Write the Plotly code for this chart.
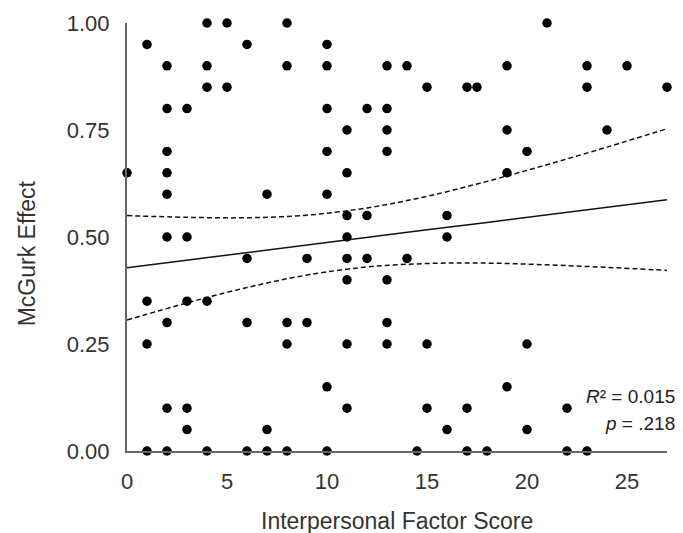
import plotly.graph_objects as go

# Interpersonal factor score (x) and McGurk effect (y)
x_vals = [4, 5, 8, 21,
          1, 6, 10,
          2, 4, 8, 10, 13, 14, 19, 23, 25,
          4, 5, 15, 17, 17.5, 23, 27,
          2, 3, 10, 12, 13,
          11, 13, 19, 24,
          2, 10, 13, 20,
          0, 2, 11, 19,
          2, 7, 10,
          11, 12, 16,
          2, 3, 11, 16,
          6, 9, 11, 12, 14,
          11, 13,
          1, 3, 4,
          2, 6, 8, 9, 13,
          1, 8, 11, 13, 15, 20,
          10, 19,
          2, 3, 11, 15, 17, 22,
          3, 7, 16, 20,
          1, 2, 4, 6, 7, 8, 10, 14.5, 17, 18, 22, 23]
y_vals = ([1.00] * 4 + [0.95] * 3 + [0.90] * 9 + [0.85] * 7 + [0.80] * 5 +
          [0.75] * 4 + [0.70] * 4 + [0.65] * 4 + [0.60] * 3 + [0.55] * 3 +
          [0.50] * 4 + [0.45] * 5 + [0.40] * 2 + [0.35] * 3 + [0.30] * 5 +
          [0.25] * 6 + [0.15] * 2 + [0.10] * 6 + [0.05] * 4 + [0.00] * 12)

# Regression line and 95% confidence band
fit_x = [0, 3, 6, 9, 12, 15, 18, 21, 24, 27]
fit_y = [0.428, 0.446, 0.463, 0.481, 0.499, 0.517, 0.534, 0.552, 0.570, 0.587]
ci_upper = [0.550, 0.546, 0.545, 0.551, 0.568, 0.595, 0.630, 0.669, 0.710, 0.753]
ci_lower = [0.306, 0.346, 0.382, 0.411, 0.430, 0.438, 0.439, 0.435, 0.429, 0.422]

x_ticks = [0, 5, 10, 15, 20, 25]
y_ticks = [0.00, 0.25, 0.50, 0.75, 1.00]
r2_text = "<i>R</i>² = 0.015"
p_text = "<i>p</i> = .218"

fig = go.Figure()
fig.add_trace(go.Scatter(x=fit_x, y=ci_upper, mode="lines",
                         line=dict(color="#111", width=1.5, dash="5px,3px", shape="spline"),
                         hoverinfo="skip", cliponaxis=False))
fig.add_trace(go.Scatter(x=fit_x, y=ci_lower, mode="lines",
                         line=dict(color="#111", width=1.5, dash="5px,3px", shape="spline"),
                         hoverinfo="skip", cliponaxis=False))
fig.add_trace(go.Scatter(x=fit_x, y=fit_y, mode="lines",
                         line=dict(color="#111", width=1.5),
                         hoverinfo="skip", cliponaxis=False))
fig.add_trace(go.Scatter(x=x_vals, y=y_vals, mode="markers",
                         marker=dict(color="black", size=9.5),
                         cliponaxis=False))

font_family = "Liberation Sans, Arial, sans-serif"
fig.update_layout(
    width=683, height=533,
    margin=dict(l=127, r=16, t=23, b=82),
    paper_bgcolor="white", plot_bgcolor="white",
    showlegend=False,
    font=dict(family=font_family, size=22, color="#333"),
    xaxis=dict(range=[0, 27], tickvals=x_ticks, showgrid=False, zeroline=False,
               showline=True, linecolor="#666", linewidth=2,
               ticks="outside", ticklen=10, tickcolor="rgba(0,0,0,0)",
               tickfont=dict(size=22, color="#333")),
    yaxis=dict(range=[0, 1], tickvals=y_ticks, tickformat=".2f", showgrid=False,
               zeroline=False, showline=True, linecolor="#666", linewidth=2,
               ticks="outside", ticklen=11, tickcolor="rgba(0,0,0,0)",
               tickfont=dict(size=22, color="#333")),
    annotations=[
        dict(text="Interpersonal Factor Score", xref="paper", yref="paper",
             x=0.5, y=-69.5 / 428, xanchor="center", yanchor="middle",
             showarrow=False, font=dict(size=23, color="#333")),
        dict(text="McGurk Effect", xref="paper", yref="paper",
             x=-100 / 540, y=(450.7 - 253) / 428, xanchor="center", yanchor="middle",
             textangle=-90, showarrow=False, font=dict(size=23, color="#333")),
        dict(text=r2_text, xref="paper", yref="paper",
             x=550 / 540, y=55 / 428, xanchor="right", yanchor="middle",
             showarrow=False, font=dict(size=19, color="#222")),
        dict(text=p_text, xref="paper", yref="paper",
             x=550 / 540, y=27.5 / 428, xanchor="right", yanchor="middle",
             showarrow=False, font=dict(size=19, color="#222")),
    ],
)

fig.write_html("out.html")
